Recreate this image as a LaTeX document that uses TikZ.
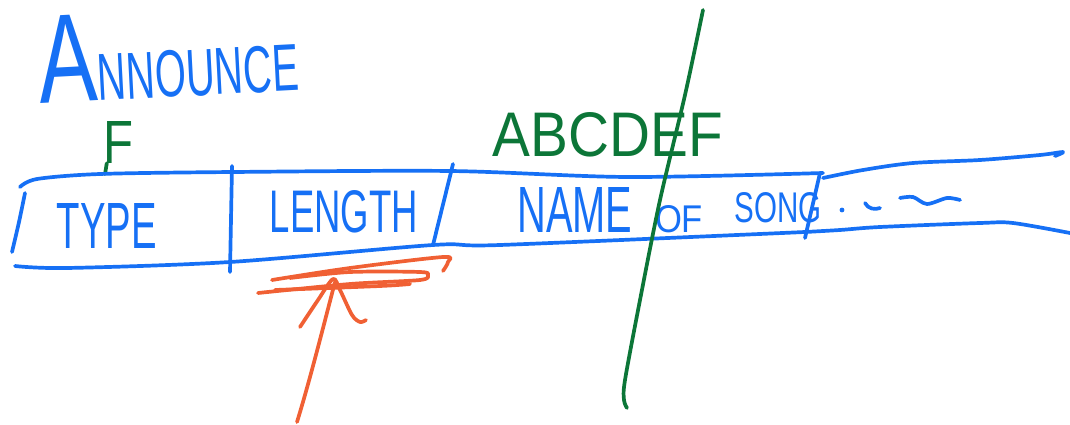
\documentclass[tikz,border=0pt]{standalone}
\usepackage{fontspec}
\setmainfont{Liberation Sans}
\definecolor{pblue}{RGB}{22,112,245}
\definecolor{pgreen}{RGB}{12,118,56}
\definecolor{porange}{RGB}{240,96,52}
\begin{document}
\begin{tikzpicture}[x=1pt,y=-1pt,line cap=round,line join=round,
  stroke/.style={line width=3.7pt,draw=#1},
  lbl/.style={inner sep=0pt,text=#1}]
\useasboundingbox (0,0) rectangle (1070,425);
% texts
\node[lbl=pblue,anchor=base west,rotate=3] (announce) at (40,104)
  {\fontsize{70}{70}\selectfont\scalebox{1.25}[1.8]{A}\scalebox{0.57}[0.95]{NNOUNCE}};
\node[lbl=pgreen] (f) at (119,142) {\resizebox{30pt}{42pt}{F}};
\node[lbl=pblue] (type) at (107,226) {\resizebox{100pt}{45pt}{TYPE}};
\node[lbl=pblue] (length) at (344,212) {\resizebox{148pt}{42pt}{LENGTH}};
\node[lbl=pgreen] (abc) at (608,135) {\resizebox{230pt}{44pt}{ABCDEF}};
\node[lbl=pblue] (name) at (575,210) {\resizebox{115pt}{45pt}{NAME}};
\node[lbl=pblue] (of) at (679,219) {\resizebox{48pt}{27pt}{OF}};
\node[lbl=pblue] (song) at (778,208) {\resizebox{87pt}{30pt}{SONG}};
% F stem down to bar
\coordinate (fend) at (105,174);
\draw[stroke=pgreen] ([xshift=3pt]f.south west) -- (fend);
% record bar
\draw[stroke=pblue] plot[smooth] coordinates {(20,187) (37,179) (100,174) (233,172) (450,171) (628,177) (823,173)};
\draw[stroke=pblue] plot[smooth] coordinates {(15,266) (67,268) (230,262) (433,245) (500,245) (805,232)};
\draw[stroke=pblue] plot[smooth] coordinates {(25,193) (19,222) (12,252)};
\draw[stroke=pblue] (232,166) -- (230,272);
\draw[stroke=pblue] (453,164) -- (433,245);
\draw[stroke=pblue] (820,173) -- (805,238);
\draw[stroke=pblue] plot[smooth] coordinates {(823,178) (863,170) (913,163) (980,160) (1040,155) (1063,152) (1055,156)};
\draw[stroke=pblue] plot[smooth] coordinates {(805,232) (840,230) (880,227) (980,223) (1013,223) (1070,233)};
% trailing marks
\fill[pblue] (842,210) circle (2.4);
\draw[stroke=pblue] (865,203) .. controls (868,209) and (875,210) .. (880,208);
\draw[stroke=pblue] plot[smooth] coordinates {(900,198) (913,197) (927,204) (947,198) (960,200)};
% green cut line
\draw[stroke=pgreen] plot[smooth] coordinates {(703,10) (685,95) (660,200) (640,300) (625,380) (624,400) (627,408)};
% orange arrow with underline scribbles
\coordinate (tail) at (297,422);
\coordinate (tip) at (335,282);
\draw[stroke=porange] plot[smooth] coordinates {(272,280) (350,268) (443,257) (448,262) (443,271)};
\draw[stroke=porange] plot[smooth] coordinates {(258,293) (350,284) (420,280) (428,275) (420,272) (350,272) (290,278)};
\draw[stroke=porange] plot[smooth] coordinates {(275,290) (380,286) (410,284)};
\draw[stroke=porange] (tail) .. controls (310,380) and (325,320) .. (tip);
\draw[stroke=porange] plot[smooth] coordinates {(300,327) (318,300) (333,279) (340,290) (352,315) (360,322) (366,320)};
\end{tikzpicture}
\end{document}
